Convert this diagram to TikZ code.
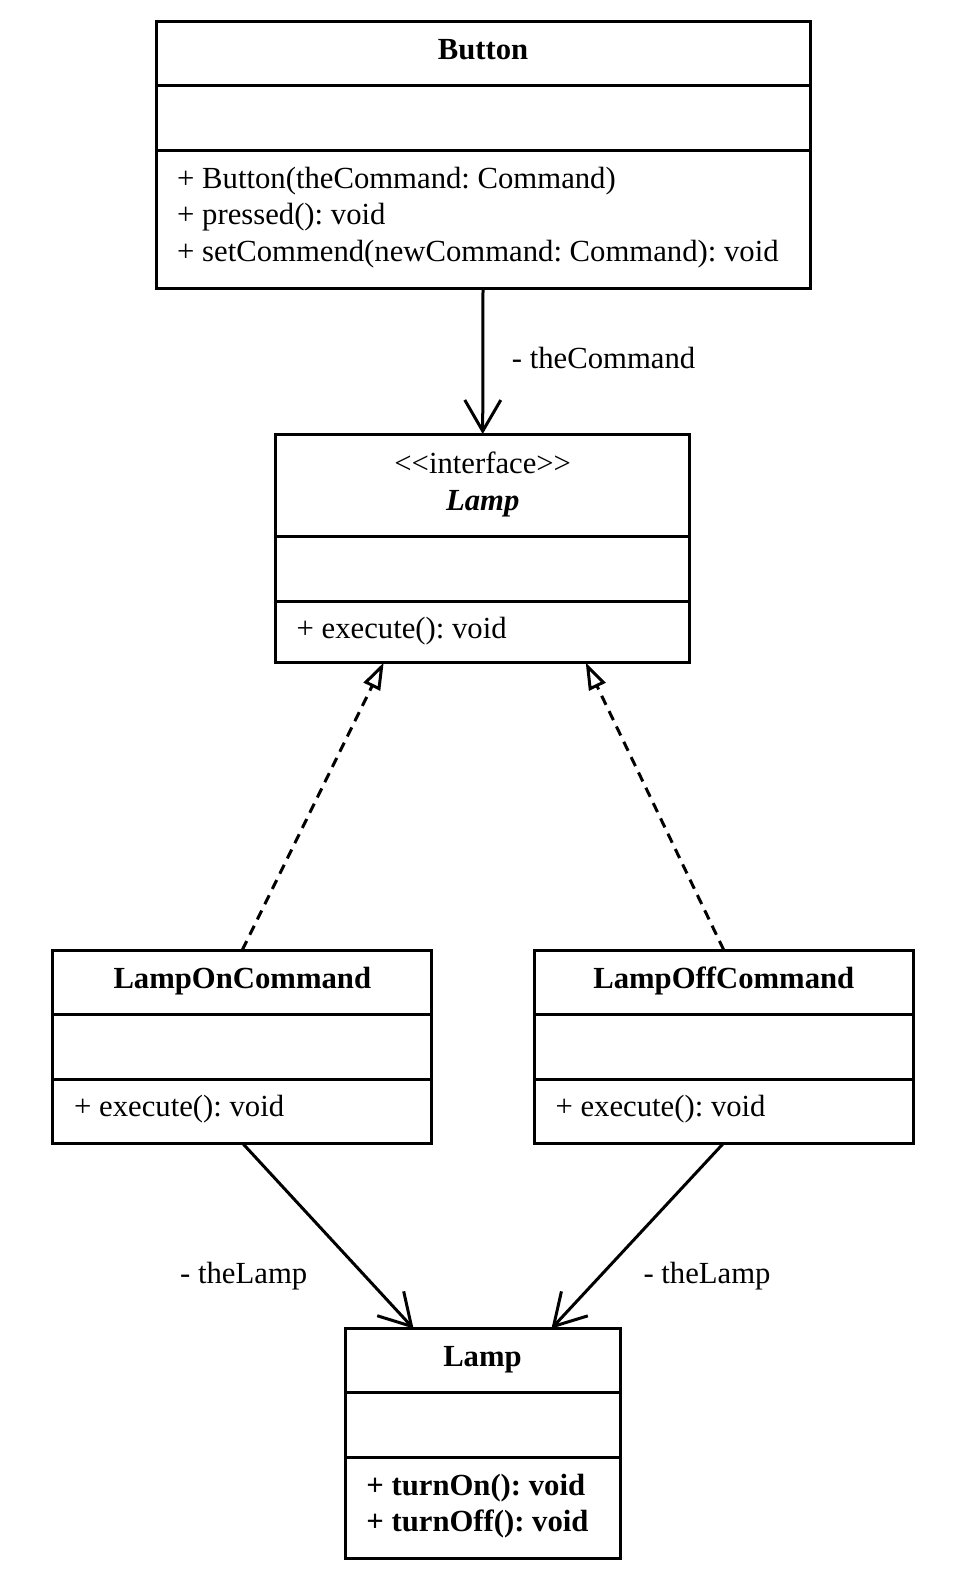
\documentclass[tikz,border=0pt]{standalone}
\usepackage{fontspec}
\setmainfont{Liberation Serif}
\usetikzlibrary{arrows.meta}

\newcommand\umlfont{\fontsize{30.7}{36.7}\selectfont\frenchspacing}

\begin{document}
\begin{tikzpicture}[x=1pt,y=-1pt,
  every node/.style={font=\umlfont},
  comp/.style={draw, line width=3pt, inner sep=0pt, outer sep=0pt, anchor=north west},
  title/.style={inner sep=0pt, anchor=base, align=center, font=\umlfont\bfseries},
  members/.style={inner sep=0pt, anchor=base west, align=left},
  lbl/.style={inner sep=0pt, anchor=base west},
  assoc/.style={line width=3pt, -{Straight Barb[length=31pt,width=36pt]}},
  realize/.style={line width=3pt, dash pattern=on 10pt off 7pt,
    -{Triangle[open,length=27pt,width=18pt]}}
]
\useasboundingbox (0,0) rectangle (970,1586);
\fill[white] (0,0) rectangle (970,1586);

% Button (multi-line nodes are placed by the baseline of their last line)
\node[comp, minimum width=654pt, minimum height=64.5pt] (btnT) at (156,21.5) {};
\node[comp, minimum width=654pt, minimum height=65pt]   (btnA) at (156,86) {};
\node[comp, minimum width=654pt, minimum height=138pt]  (btnO) at (156,151) {};
\node[title] (btnName) at (483,59.5) {Button};
\node[members] (btnOps) at (177,261.7)
  {+ Button(theCommand: Command)\\+ pressed(): void\\+ setCommend(newCommand: Command): void};

% Lamp interface
\node[comp, minimum width=414pt, minimum height=102pt]  (ifT) at (275.7,434) {};
\node[comp, minimum width=414pt, minimum height=65pt]   (ifA) at (275.7,536) {};
\node[comp, minimum width=414pt, minimum height=61.5pt] (ifO) at (275.7,601) {};
\node[title, font=\umlfont] (ifName) at (482.7,510)
  {<\kern0pt<interface>\kern0pt>\\\textbf{\textit{Lamp}}};
\node[members] (ifOps) at (296.5,638) {+ execute(): void};

% LampOnCommand
\node[comp, minimum width=379.2pt, minimum height=64.7pt] (onT) at (52.7,950) {};
\node[comp, minimum width=379.2pt, minimum height=64.6pt] (onA) at (52.7,1014.7) {};
\node[comp, minimum width=379.2pt, minimum height=63.7pt] (onO) at (52.7,1079.3) {};
\node[title] (onName) at (242.3,988.3) {LampOnCommand};
\node[members] (onOps) at (74,1116.7) {+ execute(): void};

% LampOffCommand
\node[comp, minimum width=379.3pt, minimum height=64.7pt] (offT) at (534.1,950) {};
\node[comp, minimum width=379.3pt, minimum height=64.6pt] (offA) at (534.1,1014.7) {};
\node[comp, minimum width=379.3pt, minimum height=63.7pt] (offO) at (534.1,1079.3) {};
\node[title] (offName) at (723.8,988.3) {LampOffCommand};
\node[members] (offOps) at (555.4,1116.7) {+ execute(): void};

% Lamp
\node[comp, minimum width=275pt, minimum height=63.5pt]  (lampT) at (345,1328.5) {};
\node[comp, minimum width=275pt, minimum height=65pt]    (lampA) at (345,1392) {};
\node[comp, minimum width=275pt, minimum height=101.5pt] (lampO) at (345,1457) {};
\node[title] (lampName) at (482.5,1366.7) {Lamp};
\node[members, font=\umlfont\bfseries] (lampOps) at (366.2,1531.7)
  {+ turnOn(): void\\+ turnOff(): void};

% Connectors
\draw[assoc] (btnO.south) -- (ifT.north);
\draw[realize] (onT.north) -- ([xshift=-99pt]ifO.south);
\draw[realize] (offT.north) -- ([xshift=103pt]ifO.south);
\draw[assoc] (onO.south) -- ([xshift=-69pt]lampT.north);
\draw[assoc] (offO.south) -- ([xshift=69pt]lampT.north);

% Role names
\node[lbl] (cmdRole) at (511.7,368.3) {- theCommand};
\node[lbl] (onRole) at (180,1283.3) {- theLamp};
\node[lbl] (offRole) at (643.3,1283.3) {- theLamp};
\end{tikzpicture}
\end{document}
